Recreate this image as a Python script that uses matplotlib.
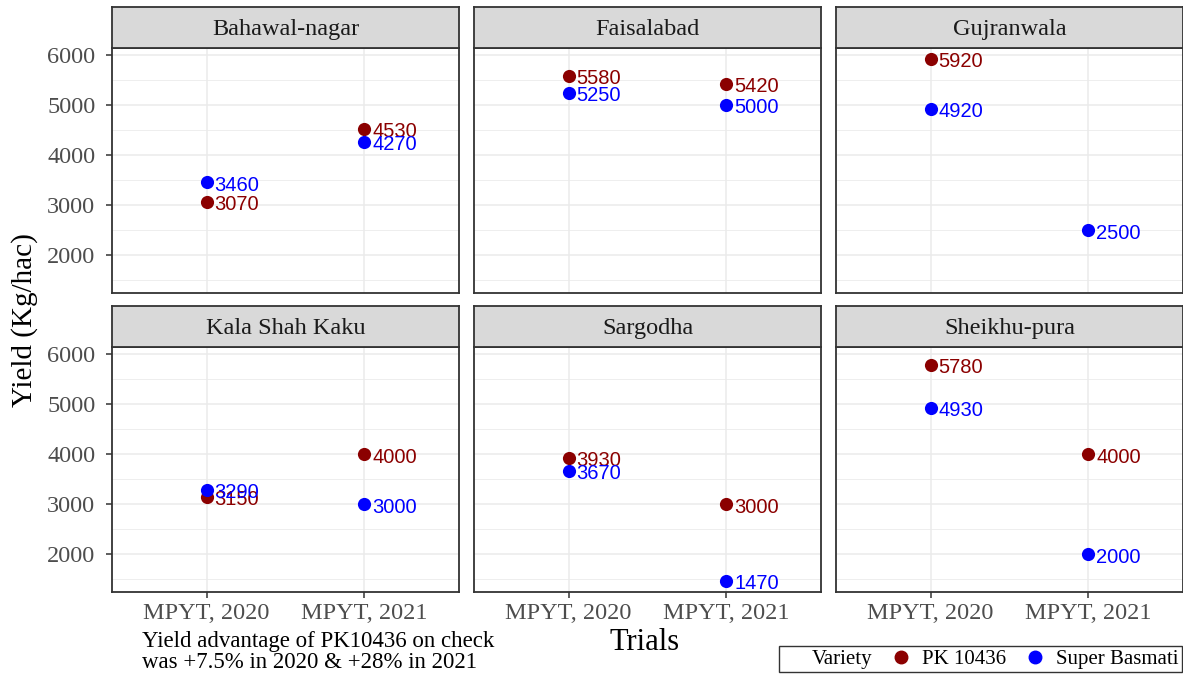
import numpy as np
import matplotlib
matplotlib.use('Agg')
from matplotlib import pyplot as plt
from matplotlib.lines import Line2D

# data
sites = ['Bahawal-nagar', 'Faisalabad', 'Gujranwala',
         'Kala Shah Kaku', 'Sargodha', 'Sheikhu-pura']
trials = ['MPYT, 2020', 'MPYT, 2021']
pk10436 = [[3070, 4530], [5580, 5420], [5920, np.nan],
           [3150, 4000], [3930, 3000], [5780, 4000]]
super_basmati = [[3460, 4270], [5250, 5000], [4920, 2500],
                 [3290, 3000], [3670, 1470], [4930, 2000]]
varieties = ['PK 10436', 'Super Basmati']
colors = ['#8B0000', '#0000FF']
caption = 'Yield advantage of PK10436 on check\nwas +7.5% in 2020 & +28% in 2021'

SERIF = 'Liberation Serif'
SANS = 'Liberation Sans'
W, H = 1183, 675

fig = plt.figure(figsize=(W / 100, H / 100), dpi=100)

# ggplot-like y range with 5% expansion
allv = np.array(pk10436 + super_basmati, dtype=float)
lo, hi = np.nanmin(allv), np.nanmax(allv)
pad = (hi - lo) * 0.05
ylim = (lo - pad, hi + pad)

col_left = [112, 474, 836]
pw = 347
rows = [(48, 293), (347, 592)]
strip_h = 41

x = np.arange(len(trials)) + 1

for i, site in enumerate(sites):
    r, c = divmod(i, 3)
    top, bot = rows[r]
    ax = fig.add_axes([col_left[c] / W, 1 - bot / H, pw / W, (bot - top) / H])
    ax.set_facecolor('white')
    ax.set_xlim(0.4, 2.6)
    ax.set_ylim(*ylim)
    ax.set_yticks([2000, 3000, 4000, 5000, 6000])
    ax.set_yticks([1500, 2500, 3500, 4500, 5500], minor=True)
    ax.set_xticks(x)
    ax.grid(True, which='major', color='#EBEBEB', lw=1.1)
    ax.grid(True, which='minor', axis='y', color='#EBEBEB', lw=0.6)
    ax.set_axisbelow(True)
    for s in ax.spines.values():
        s.set_color('#333333')
        s.set_linewidth(1.3)
    ax.tick_params(which='minor', length=0)
    ax.tick_params(which='major', length=4, color='#333333', width=1.1,
                   labelcolor='#4D4D4D', labelsize=17.5)
    ax.tick_params(axis='y', pad=8)
    ax.tick_params(axis='x', pad=4)
    if c == 0:
        ax.set_yticklabels([str(v) for v in [2000, 3000, 4000, 5000, 6000]],
                           family=SERIF)
    else:
        ax.tick_params(axis='y', left=False, labelleft=False)
    if r == 1:
        ax.set_xticklabels(trials, family=SERIF)
    else:
        ax.tick_params(axis='x', bottom=False, labelbottom=False)

    for vals, col, z in [(pk10436[i], colors[0], 3), (super_basmati[i], colors[1], 4)]:
        vals = np.array(vals, dtype=float)
        ok = ~np.isnan(vals)
        ax.scatter(x[ok], vals[ok], s=90, color=col, zorder=z, linewidths=0)
        for xx, v in zip(x[ok], vals[ok]):
            ax.annotate(str(int(v)), (xx, v), xytext=(5.5, -2),
                        textcoords='offset points', ha='left', va='center',
                        color=col, fontsize=14.5, family=SANS, zorder=z + 2)

    # facet strip
    sax = fig.add_axes([col_left[c] / W, 1 - top / H, pw / W, strip_h / H])
    sax.set_facecolor('#D9D9D9')
    sax.set_xticks([])
    sax.set_yticks([])
    for s in sax.spines.values():
        s.set_color('#333333')
        s.set_linewidth(1.3)
    sax.text(0.5, 0.45, site, ha='center', va='center', fontsize=17.5,
             family=SERIF, color='#1A1A1A', transform=sax.transAxes)

fig.text(25 / W, 1 - 320 / H, 'Yield (Kg/hac)', rotation=90, ha='center',
         va='center', fontsize=21, family=SERIF)
fig.text(645 / W, 1 - 642 / H, 'Trials', ha='center', va='center',
         fontsize=22, family=SERIF)
fig.text(142 / W, 1 - 652 / H, caption, ha='left', va='center',
         fontsize=16.5, family=SERIF, linespacing=0.95)

handles = [Line2D([], [], linestyle='none')]
handles += [Line2D([], [], marker='o', linestyle='none', color=c, markersize=9)
            for c in colors]
leg = fig.legend(handles, ['Variety'] + varieties, loc='lower right',
                 bbox_to_anchor=(0.999, 0.004), ncol=3, frameon=True,
                 fancybox=False, edgecolor='black', handlelength=0.8,
                 handletextpad=0.6, columnspacing=1.0, borderpad=0.15,
                 borderaxespad=0.0, prop={'family': SERIF, 'size': 15})
leg.get_frame().set_linewidth(1.0)

fig.savefig('out.png', dpi=100)
